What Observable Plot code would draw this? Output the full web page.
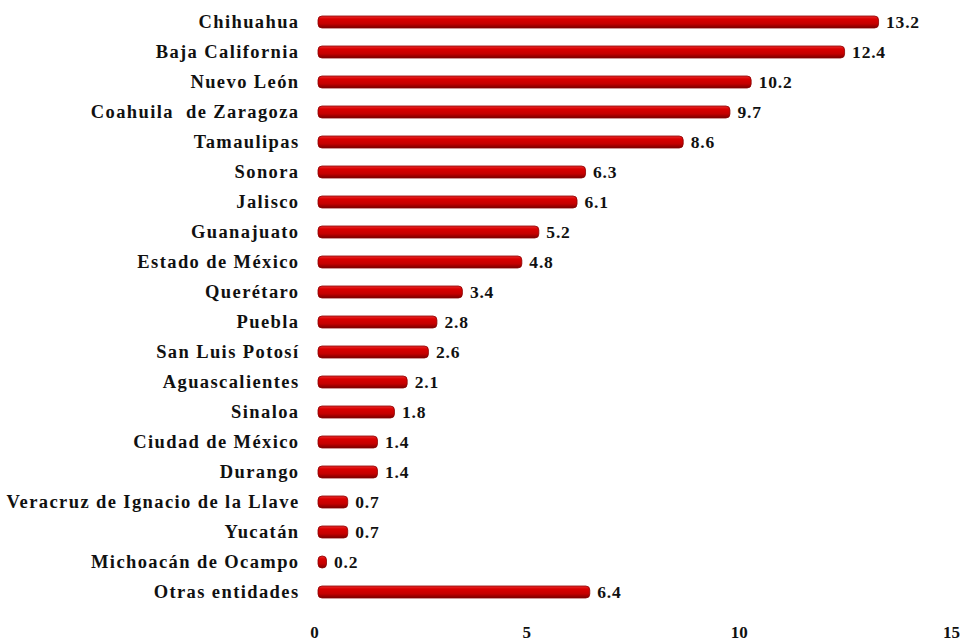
<!DOCTYPE html>
<html>
<head>
<meta charset="utf-8">
<script src="https://cdn.jsdelivr.net/npm/d3@7"></script>
<script src="https://cdn.jsdelivr.net/npm/@observablehq/plot@0.6"></script>
<style>
  html, body { margin: 0; padding: 0; background: #fff; }
  #chart svg { display: block; }
  #chart g[aria-label="y-axis tick label"] text { letter-spacing: 1.4px; }
  #chart g[aria-label="text"] text { letter-spacing: 0.8px; }
</style>
</head>
<body>
<div id="chart"></div>
<script>
const states = ["Chihuahua","Baja California","Nuevo León","Coahuila  de Zaragoza","Tamaulipas","Sonora","Jalisco","Guanajuato","Estado de México","Querétaro","Puebla","San Luis Potosí","Aguascalientes","Sinaloa","Ciudad de México","Durango","Veracruz de Ignacio de la Llave","Yucatán","Michoacán de Ocampo","Otras entidades"];
const values = [13.2,12.4,10.2,9.7,8.6,6.3,6.1,5.2,4.8,3.4,2.8,2.6,2.1,1.8,1.4,1.4,0.7,0.7,0.2,6.4];
const xTicks = [0,5,10,15];

const data = states.map((s, i) => ({state: s, value: values[i]}));
const font = "'Liberation Serif', 'Times New Roman', serif";

const chart = Plot.plot({
  width: 964,
  height: 643,
  marginLeft: 318,
  marginRight: 9,
  marginTop: 7,
  marginBottom: 36,
  style: {fontFamily: font, fontSize: "17px", fontWeight: "bold", color: "#111", background: "#fff"},
  x: {domain: [0, 15], label: null},
  y: {domain: states, paddingInner: 0.6, paddingOuter: 0.3, label: null},
  marks: [
    Plot.axisY({tickSize: 0, tickPadding: 19, fontSize: 18.5, fontWeight: "bold", fill: "#111"}),
    Plot.axisX({ticks: xTicks, tickSize: 0, tickPadding: 18, dx: -4, fontSize: 17, fontWeight: "bold", fill: "#111", tickFormat: d => String(d)}),
    Plot.barX(data, {y: "state", x: "value", fill: "url(#barGrad)", stroke: "#8a0000", strokeWidth: 0.8, rx: 4}),
    Plot.text(data, {y: "state", x: "value", text: d => d.value.toFixed(1), textAnchor: "start", dx: 7, fontSize: 17.5, fontWeight: "bold", fill: "#111"})
  ]
});

const ns = "http://www.w3.org/2000/svg";
const defs = document.createElementNS(ns, "defs");
defs.innerHTML = `<linearGradient id="barGrad" x1="0" y1="0" x2="0" y2="1">
  <stop offset="0" stop-color="#e83030"/>
  <stop offset="0.25" stop-color="#d90000"/>
  <stop offset="0.65" stop-color="#c40000"/>
  <stop offset="1" stop-color="#7a0000"/>
</linearGradient>`;
chart.insertBefore(defs, chart.firstChild);
document.getElementById("chart").appendChild(chart);
</script>
</body>
</html>
